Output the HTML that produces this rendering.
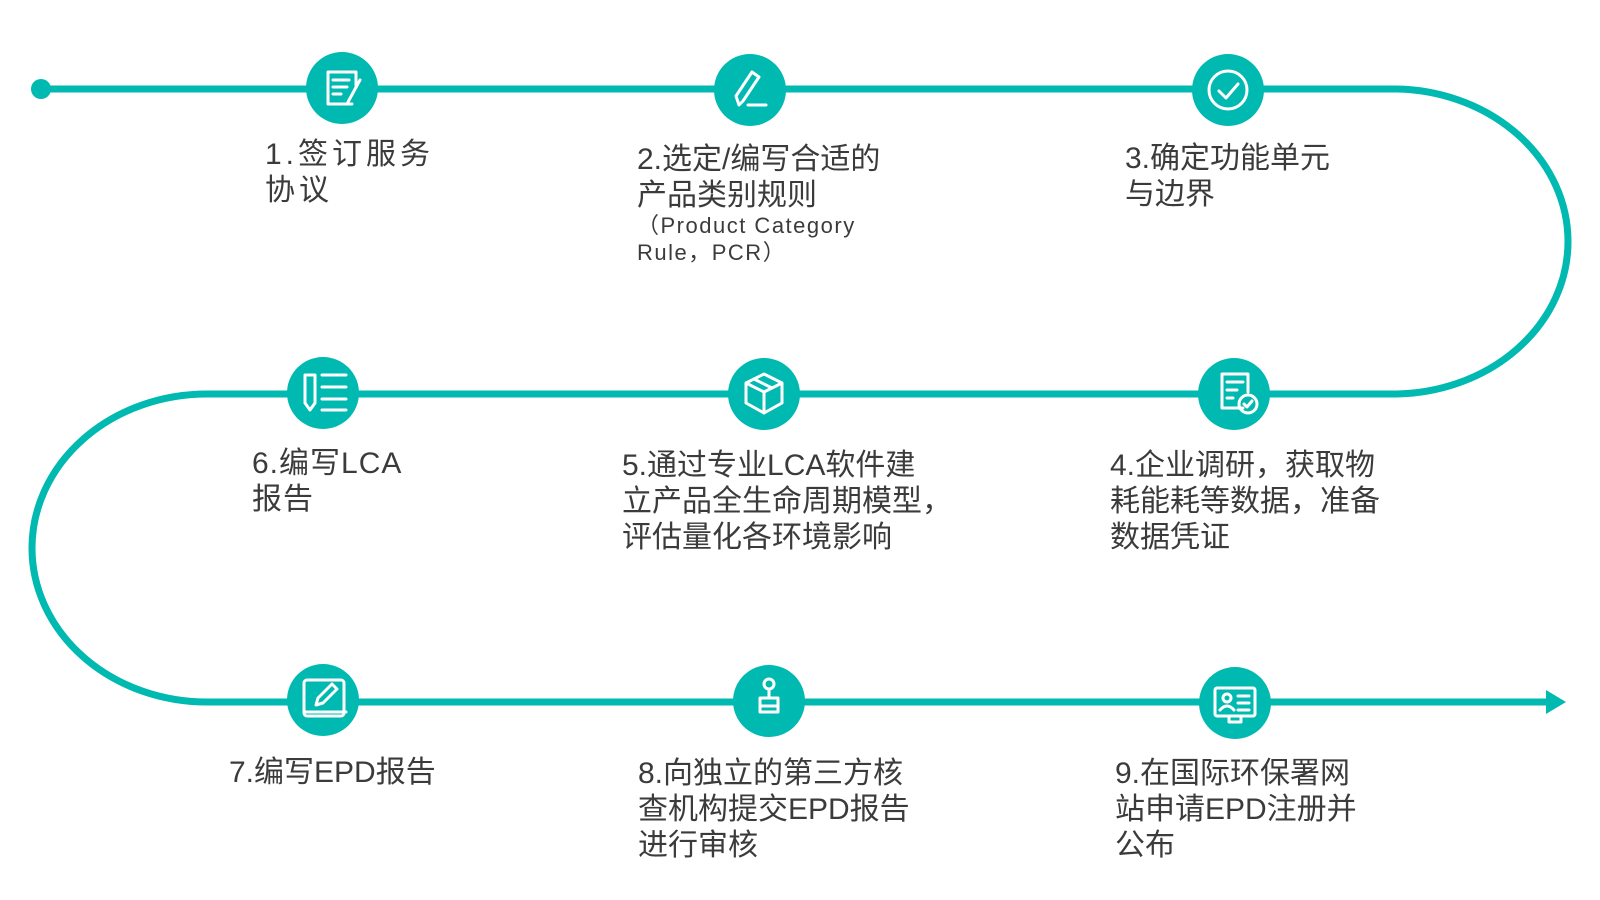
<!DOCTYPE html>
<html><head><meta charset="utf-8"><style>
body{margin:0;width:1600px;height:900px;background:#fff;position:relative;overflow:hidden;font-family:"Liberation Sans","Noto Sans CJK SC",sans-serif;color:#3b3b3b}
.t{position:absolute;font-size:30px;line-height:36px;white-space:nowrap}
.s{display:block;font-size:22px;line-height:27px;letter-spacing:1.5px;margin-top:-2px}
svg{position:absolute;left:0;top:0}
</style></head><body>
<svg width="1600" height="900" viewBox="0 0 1600 900">
<g fill="none" stroke="#00b9b1" stroke-width="7">
<path d="M41 89 H1393 A175 152.5 0 0 1 1393 394 H207 A175 154 0 0 0 207 702 H1552"/>
</g>
<circle cx="41" cy="89" r="10" fill="#00b9b1"/>
<polygon points="1546,690 1566,702 1546,714" fill="#00b9b1"/>
<g fill="#00b9b1">
<circle cx="342" cy="88" r="36"/><circle cx="750" cy="90" r="36"/><circle cx="1228" cy="90" r="36"/>
<circle cx="323" cy="393" r="36"/><circle cx="764" cy="394" r="36"/><circle cx="1234" cy="394" r="36"/>
<circle cx="323" cy="700" r="36"/><circle cx="769" cy="701" r="36"/><circle cx="1235" cy="703" r="36"/>
</g>
<g fill="none" stroke="#fff" stroke-width="3" stroke-linecap="round" stroke-linejoin="round">
<path d="M352 104 H328 V72 H356 V86"/><path d="M333 80h16M333 87h14M333 94h8"/><path d="M360 80 L348 102"/>
<path d="M739 105 L736 96 L752 72 L759 77 L743 101 Z"/><path d="M748 105 H766"/>
<circle cx="1228" cy="90" r="19"/><path d="M1219 91 L1226 98 L1238 84"/>
<path d="M305 375 V403 L310 410 L315 403 V375 Z"/><path d="M322 375 H346 M322 387 H346 M322 399 H346 M322 410 H346"/>
<g transform="translate(-2 0)"><path d="M766 374 L784 383 L784 403 L766 413 L748 403 L748 383 Z"/><path d="M748 383 L766 392 L784 383 M766 392 V413"/><path d="M756 379 L774 388"/></g>
<g transform="translate(-2 0)"><path d="M1245 408 H1224 V374 H1250 V392"/><path d="M1229 382h16M1229 390h10M1229 398h6"/><circle cx="1250" cy="404" r="9"/><path d="M1246 404 L1249 407 L1254 401"/></g>
<rect x="304" y="680" width="40" height="36" rx="3"/><path d="M304 712 H346"/><path d="M316 705 L318 698 L332 684 L337 689 L323 703 Z"/>
<circle cx="769" cy="684" r="5"/><path d="M769 689 V698 M760 698 H778 V712 H760 Z M760 706 H778"/>
<g transform="translate(-5 0)"><rect x="1220" y="688" width="40" height="28" rx="2"/><path d="M1234 716 V722 H1246 V716"/><circle cx="1232" cy="698" r="4"/><path d="M1225 710 Q1232 702 1239 710"/><path d="M1243 696h11M1243 703h11M1243 710h11"/></g>
</g>
</svg>
<div class="t" style="left:265px;top:137px;letter-spacing:4px">1.签订服务<br>协议</div>
<div class="t" style="left:637px;top:142px">2.选定/编写合适的<br>产品类别规则<span class="s">（Product Category<br>Rule，PCR）</span></div>
<div class="t" style="left:1125px;top:141px">3.确定功能单元<br>与边界</div>
<div class="t" style="left:252px;top:446px;letter-spacing:1px">6.编写LCA<br>报告</div>
<div class="t" style="left:622px;top:448px">5.通过专业LCA软件建<br>立产品全生命周期模型，<br>评估量化各环境影响</div>
<div class="t" style="left:1110px;top:448px">4.企业调研，获取物<br>耗能耗等数据，准备<br>数据凭证</div>
<div class="t" style="left:229px;top:755px">7.编写EPD报告</div>
<div class="t" style="left:638px;top:756px">8.向独立的第三方核<br>查机构提交EPD报告<br>进行审核</div>
<div class="t" style="left:1115px;top:756px">9.在国际环保署网<br>站申请EPD注册并<br>公布</div>
</body></html>
